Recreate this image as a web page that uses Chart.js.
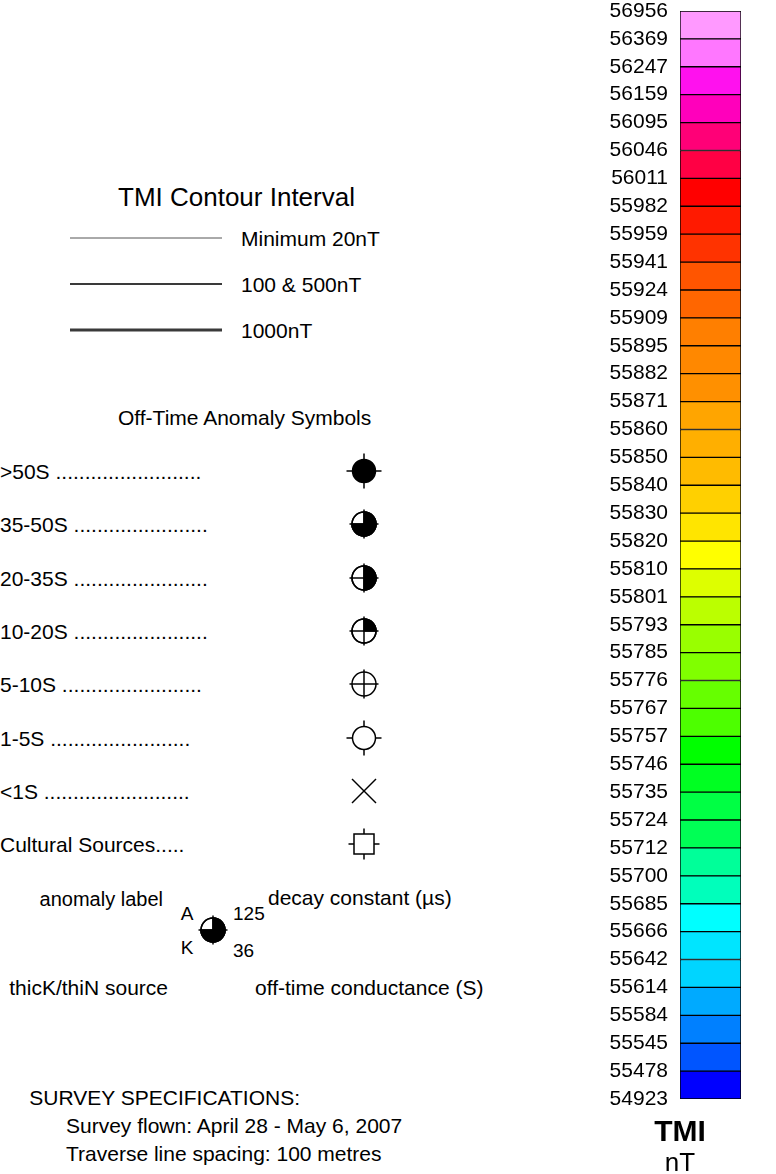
<!DOCTYPE html>
<html>
<head>
<meta charset="utf-8">
<script src="https://cdn.jsdelivr.net/npm/chart.js@4/dist/chart.umd.min.js"></script>
<style>
  html, body { margin: 0; padding: 0; background: #fff; }
  body { width: 776px; height: 1174px; position: relative; overflow: hidden;
         font-family: "Liberation Sans", Arial, Helvetica, sans-serif; color: #000; }
  .t { position: absolute; white-space: pre; line-height: 1; }
  #chartBox { position: absolute; left: 560px; top: 0; width: 216px; height: 1174px; }
  svg { position: absolute; overflow: visible; }
</style>
</head>
<body>
<div id="chartBox"><canvas id="c"></canvas></div>
<div id="legend"></div>
<script>
// ---- data ----
// class boundaries of the TMI colour scale, bottom to top (nT)
const boundaries = [54923, 55478, 55545, 55584, 55614, 55642, 55666, 55685, 55700, 55712,
  55724, 55735, 55746, 55757, 55767, 55776, 55785, 55793, 55801, 55810,
  55820, 55830, 55840, 55850, 55860, 55871, 55882, 55895, 55909, 55924,
  55941, 55959, 55982, 56011, 56046, 56095, 56159, 56247, 56369, 56956];
// colour of each class, bottom to top
const classColors = ['#0000FF', '#0055FF', '#0080FF', '#00AAFF', '#00D5FF', '#00E5FF', '#00FFFF', '#00FFBB', '#00FF99',
  '#00FF55', '#00FF44', '#00FF22', '#00FF00', '#4DFF00', '#66FF00', '#80FF00', '#99FF00', '#BBFF00', '#DDFF00',
  '#FFFF00', '#FFE500', '#FFD000', '#FFBB00', '#FFAF00', '#FFA500', '#FF9000', '#FF8800', '#FF7F00', '#FF6600',
  '#FF5500', '#FF3300', '#FF1A00', '#FF0000', '#FF0044', '#FF0077', '#FF00BB', '#FF11EE', '#FF77FF', '#FF99FF'];
const categories = ['TMI'];

const contourLabels = ['Minimum 20nT', '100 & 500nT', '1000nT'];
const symbolLabels = ['>50S .........................', '35-50S .......................',
  '20-35S .......................', '10-20S .......................', '5-10S ........................',
  '1-5S ........................', '<1S .........................', 'Cultural Sources.....'];
const symbolKinds = ['full', 'threeq', 'half', 'quarter', 'cross', 'open', 'x', 'square'];
const specLines = ['SURVEY SPECIFICATIONS:', 'Survey flown: April 28 - May 6, 2007', 'Traverse line spacing: 100 metres'];

// ---- colour bar chart ----
const FONT = '"Liberation Sans", Arial, sans-serif';
const datasets = classColors.map((col, i) => ({
  label: boundaries[i] + '-' + boundaries[i + 1],
  data: [[i, i + 1]],
  backgroundColor: col,
  borderColor: '#000',
  borderWidth: 1,
  borderSkipped: false,
  grouped: false,
  barPercentage: 1,
  categoryPercentage: 1
}));

new Chart(document.getElementById('c'), {
  type: 'bar',
  data: { labels: categories, datasets },
  options: {
    responsive: true,
    maintainAspectRatio: false,
    animation: false,
    events: [],
    layout: { padding: { left: 0, right: 35, top: 11, bottom: 75 } },
    plugins: { legend: { display: false }, tooltip: { enabled: false }, title: { display: false } },
    scales: {
      x: { display: false },
      y: {
        min: 0, max: boundaries.length - 1,
        grid: { display: false, drawTicks: false },
        border: { display: false },
        afterBuildTicks: s => { s.ticks = boundaries.map((v, i) => ({ value: i })); },
        afterFit: s => { s.width = 120; s.paddingTop = 0; s.paddingBottom = 0; },
        ticks: {
          autoSkip: false,
          padding: 12,
          color: '#000',
          font: { family: FONT, size: 21 },
          callback: v => String(boundaries[v])
        }
      }
    }
  }
});

// ---- side legend (text + symbols) ----
const L = document.getElementById('legend');
function text(str, x, yc, size, opts = {}) {
  const d = document.createElement('div');
  d.className = 't';
  d.textContent = str;
  d.style.fontSize = size + 'px';
  d.style.top = (yc - size * 0.49) + 'px';
  d.style.left = x + 'px';
  const tf = [];
  if (opts.center) tf.push('translateX(-50%)');
  if (opts.right) tf.push('translateX(-100%)');
  if (tf.length) d.style.transform = tf.join(' ');
  if (opts.bold) d.style.fontWeight = 'bold';
  L.appendChild(d);
}
function svgEl(x, y, inner) {
  const s = document.createElementNS('http://www.w3.org/2000/svg', 'svg');
  s.setAttribute('width', 40); s.setAttribute('height', 40);
  s.style.left = (x - 20) + 'px'; s.style.top = (y - 20) + 'px';
  s.innerHTML = '<g transform="translate(20,20)" stroke="#000" stroke-width="1.5" fill="none">' + inner + '</g>';
  L.appendChild(s);
}
function symbol(kind, x, y) {
  const ticks = (r, e) => `<line x1="${-e}" y1="0" x2="${-r}" y2="0"/><line x1="${r}" y1="0" x2="${e}" y2="0"/>` +
    `<line x1="0" y1="${-e}" x2="0" y2="${-r}"/><line x1="0" y1="${r}" x2="0" y2="${e}"/>`;
  const cross = e => `<line x1="${-e}" y1="0" x2="${e}" y2="0"/><line x1="0" y1="${-e}" x2="0" y2="${e}"/>`;
  const r = 12;
  let g = '';
  if (kind === 'full') {
    g = `<circle r="11.5" fill="#000"/>` + ticks(11.5, 17.5);
  } else if (kind === 'threeq') {
    g = `<circle r="${r}" fill="#fff"/><path d="M0,0 L0,${-r} A${r},${r} 0 1 1 ${-r},0 Z" fill="#000"/><circle r="${r}"/>` + cross(14.5);
  } else if (kind === 'half') {
    g = `<circle r="${r}" fill="#fff"/><path d="M0,${-r} A${r},${r} 0 0 1 0,${r} Z" fill="#000"/><circle r="${r}"/>` + cross(14.5);
  } else if (kind === 'quarter') {
    g = `<circle r="${r}" fill="#fff"/><path d="M0,0 L0,${-r} A${r},${r} 0 0 1 ${r},0 Z" fill="#000"/><circle r="${r}"/>` + cross(14.5);
  } else if (kind === 'cross') {
    g = `<circle r="${r}"/>` + cross(14.5);
  } else if (kind === 'open') {
    g = `<circle r="11.5"/>` + ticks(11.5, 17.5);
  } else if (kind === 'x') {
    g = `<line x1="-12" y1="-12" x2="12" y2="12"/><line x1="-12" y1="12" x2="12" y2="-12"/>`;
  } else if (kind === 'square') {
    g = `<rect x="-10" y="-10" width="20" height="20"/>` + ticks(10, 15.5);
  }
  svgEl(x, y, g);
}

// contour interval
text('TMI Contour Interval', 118, 197, 26);
const lineY = [238, 284, 330], lineW = [1, 2, 3], lineC = ['#555', '#3a3a3a', '#3a3a3a'];
contourLabels.forEach((s, i) => {
  svgEl(146, lineY[i], `<line x1="-76" y1="0" x2="76" y2="0" stroke="${lineC[i]}" stroke-width="${lineW[i]}"/>`);
  text(s, 241, lineY[i], 21);
});

// anomaly symbols
text('Off-Time Anomaly Symbols', 118, 417, 21);
const rowY = [471, 524, 578, 631, 684, 738, 791, 844];
symbolLabels.forEach((s, i) => {
  text(s, 0, rowY[i], 21);
  symbol(symbolKinds[i], 364, rowY[i]);
});

// example anomaly
text('anomaly label', 163, 899, 20, { right: true });
text('A', 187, 913, 19, { center: true });
text('125', 233, 913, 19);
text('decay constant (µs)', 268, 897, 21);
symbol('threeq', 213, 930);
text('K', 187, 947, 19, { center: true });
text('36', 233, 950, 19);
text('thicK/thiN source', 168, 987, 21, { right: true });
text('off-time conductance (S)', 255, 987, 21);

// survey specs
text(specLines[0], 300, 1097, 21, { right: true });
text(specLines[1], 66, 1125, 21);
text(specLines[2], 66, 1153, 21);

// colour bar titles
text('TMI', 680, 1131, 30, { center: true, bold: true });
text('nT', 680, 1162, 26, { center: true });
</script>
</body>
</html>
